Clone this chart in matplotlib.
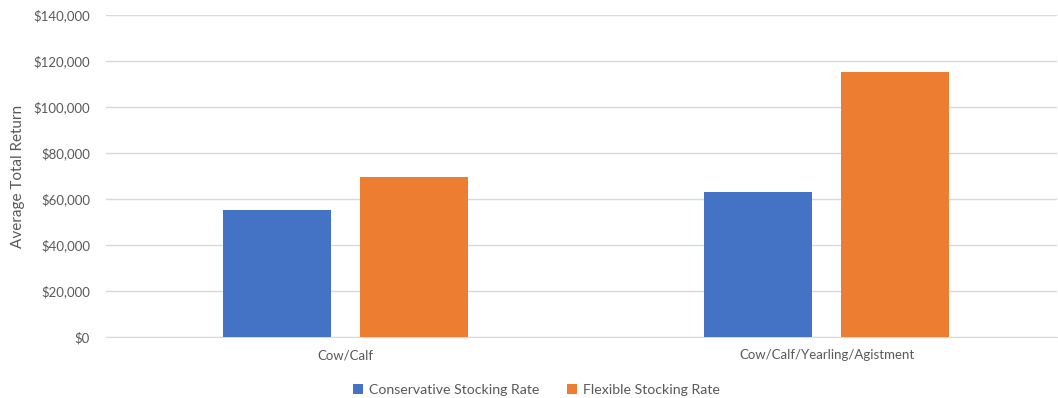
import matplotlib
matplotlib.use('Agg')
from matplotlib import pyplot as plt
from matplotlib.ticker import FuncFormatter
import numpy as np

categories = ["Cow/Calf", "Cow/Calf/Yearling/Agistment"]
conservative = [55100, 63000]
flexible = [69400, 115100]
series_names = ["Conservative Stocking Rate", "Flexible Stocking Rate"]

plt.rcParams['font.family'] = ['Lato', 'DejaVu Sans']

fig = plt.figure(figsize=(10.58, 3.98), dpi=100)
ax = fig.add_axes([0.1002, 0.1533, 0.8989, 0.809])

x = np.arange(len(categories))
w = 0.225
gap = 0.06
ax.bar(x - (w + gap) / 2, conservative, w, color="#4472C4", label=series_names[0], zorder=3)
ax.bar(x + (w + gap) / 2, flexible, w, color="#ED7D31", label=series_names[1], zorder=3)

ax.set_xlim(-0.499, 1.4795)
ax.set_ylim(0, 140000)
ax.set_yticks(np.arange(0, 140001, 20000))
ax.yaxis.set_major_formatter(FuncFormatter(lambda v, p: "${:,.0f}".format(v)))
ax.set_xticks(x)
ax.set_xticklabels(categories)
ax.grid(axis='y', color="#D9D9D9", linewidth=1, zorder=0)
for s in ["top", "right", "left"]:
    ax.spines[s].set_visible(False)
ax.spines["bottom"].set_color("#D9D9D9")
ax.tick_params(axis='both', length=0, colors="#595959", labelsize=9.5)
ax.tick_params(axis='y', pad=11.5)
ax.tick_params(axis='x', pad=9)
ax.set_ylabel("Average Total Return", color="#595959", fontsize=11)
ax.yaxis.set_label_coords(-0.085, 0.5)

leg = ax.legend(loc='upper center', bbox_to_anchor=(0.4527, -0.105), ncol=2, frameon=False,
                fontsize=10.2, handlelength=0.7, handleheight=0.7, columnspacing=2.0,
                handletextpad=0.4)
for t in leg.get_texts():
    t.set_color("#595959")

plt.savefig("out.png", dpi=100)
plt.close()
